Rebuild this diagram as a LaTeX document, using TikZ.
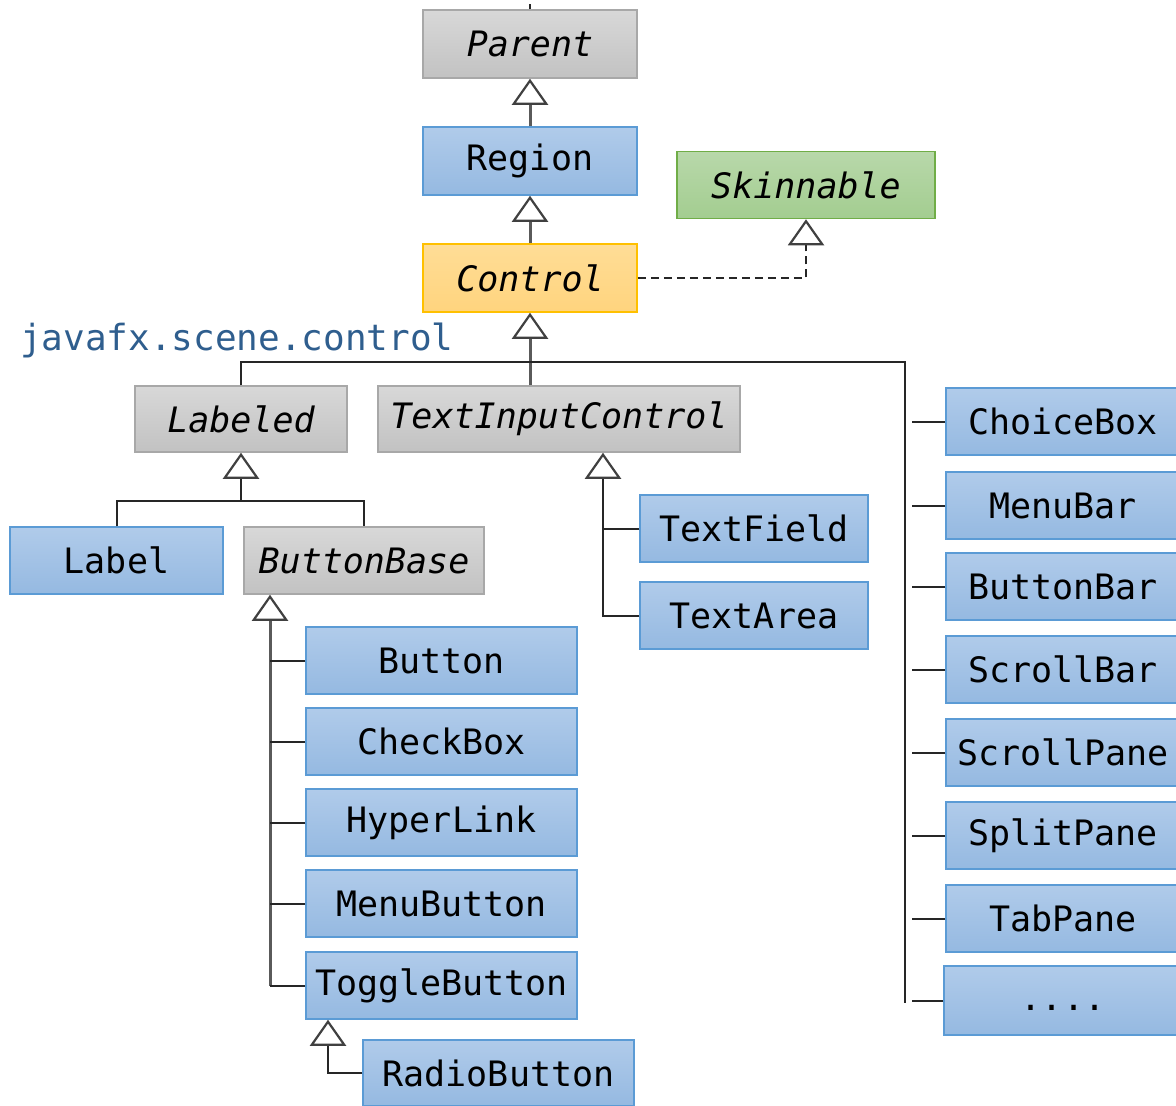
\documentclass[tikz,border=0pt]{standalone}
\usepackage{fontspec}
\newfontfamily\dmono{DejaVu Sans Mono}
\usetikzlibrary{arrows.meta}
\definecolor{blueT}{HTML}{B0CBEA}
\definecolor{blueD}{HTML}{95B9E1}
\definecolor{blueB}{HTML}{5B9BD5}
\definecolor{grayT}{HTML}{D8D8D8}
\definecolor{grayD}{HTML}{C2C2C2}
\definecolor{grayB}{HTML}{A8A8A8}
\definecolor{orT}{HTML}{FFDD96}
\definecolor{orD}{HTML}{FFD47E}
\definecolor{orB}{HTML}{FFC000}
\definecolor{grT}{HTML}{B8D8AA}
\definecolor{grD}{HTML}{A3CD90}
\definecolor{grB}{HTML}{70AD47}
\definecolor{pkg}{HTML}{2F5E8E}
\definecolor{lineG}{HTML}{5A5A5A}
\tikzset{
  box/.style={draw, line width=1.5pt, minimum height=67pt, inner sep=0pt,
    font=\dmono\fontsize{35}{42}\selectfont, text=black},
  bluebox/.style={box, draw=blueB, top color=blueT, bottom color=blueD},
  graybox/.style={box, draw=grayB, top color=grayT, bottom color=grayD, font=\dmono\itshape\fontsize{35}{42}\selectfont},
  orbox/.style={box, draw=orB, top color=orT, bottom color=orD, font=\dmono\itshape\fontsize{35}{42}\selectfont},
  grbox/.style={box, draw=grB, top color=grT, bottom color=grD, font=\dmono\itshape\fontsize{35}{42}\selectfont},
  opentip/.style={-{Triangle[open, width=36pt, length=26pt, line width=2.2pt, color=black!75, fill=white]}},
  gen/.style={draw=lineG, line width=3pt, opentip},
  genthin/.style={draw=black!85, line width=2pt, opentip},
  branch/.style={draw=black!85, line width=2pt},
  realize/.style={draw=black!85, line width=2pt, dash pattern=on 8pt off 5pt, opentip},
}
\begin{document}
\begin{tikzpicture}[x=1pt, y=-1pt]
\useasboundingbox (0,0) rectangle (1176,1106);
% top chain
\node[graybox, minimum width=214pt, minimum height=68pt] (parent) at (530,44) {Parent};
\node[bluebox, minimum width=214pt, minimum height=68pt] (region) at (530,161) {Region};
\node[orbox, minimum width=214pt, minimum height=68pt] (control) at (530,278) {Control};
\node[grbox, minimum width=258pt] (skin) at (806,185) {Skinnable};
\node[anchor=base west, font=\dmono\fontsize{36}{42}\selectfont, text=pkg, inner sep=0pt] (pkgname) at (20,350) {javafx.scene.control};
% second level
\node[graybox, minimum width=212pt, minimum height=66pt] (labeled) at (241,419) {Labeled};
\node[graybox, minimum width=362pt, minimum height=66pt] (tic) at (559,419) {TextInputControl};
% labeled children
\node[bluebox, minimum width=213pt] (label) at (116.5,560.5) {Label};
\node[graybox, minimum width=240pt] (bbase) at (364,560.5) {ButtonBase};
% buttonbase children
\node[bluebox, minimum width=271pt] (button) at (441.5,660.5) {Button};
\node[bluebox, minimum width=271pt] (checkbox) at (441.5,741.5) {CheckBox};
\node[bluebox, minimum width=271pt] (hyperlink) at (441.5,822.5) {HyperLink};
\node[bluebox, minimum width=271pt] (menubutton) at (441.5,903.5) {MenuButton};
\node[bluebox, minimum width=271pt] (toggle) at (441.5,985.5) {ToggleButton};
\node[bluebox, minimum width=271pt, minimum height=66pt] (radio) at (498.5,1073) {RadioButton};
% text input children
\node[bluebox, minimum width=228pt] (textfield) at (754,528.5) {TextField};
\node[bluebox, minimum width=228pt] (textarea) at (754,615.5) {TextArea};
% right column
\node[bluebox, minimum width=234pt] (choicebox) at (1063,421.5) {ChoiceBox};
\node[bluebox, minimum width=234pt] (menubar) at (1063,505.5) {MenuBar};
\node[bluebox, minimum width=234pt] (buttonbar) at (1063,586.5) {ButtonBar};
\node[bluebox, minimum width=234pt] (scrollbar) at (1063,669.5) {ScrollBar};
\node[bluebox, minimum width=234pt] (scrollpane) at (1063,752.5) {ScrollPane};
\node[bluebox, minimum width=234pt] (splitpane) at (1063,835.5) {SplitPane};
\node[bluebox, minimum width=234pt] (tabpane) at (1063,918.5) {TabPane};
\node[bluebox, minimum width=238pt, minimum height=69pt] (more) at (1063,1000.5) {\raisebox{-10pt}[0pt][0pt]{....}};
% coordinates
\coordinate (bus) at (530,362);
\coordinate (rtop) at (905,362);
\coordinate (rbot) at (905,1003);
\coordinate (rbr) at (912,0);
\coordinate (lj) at (241,501);
\coordinate (bbx) at (270,0);
\coordinate (rbx) at (328,0);
\coordinate (tx) at (603,0);
% connectors
\draw[branch] (parent.north) -- ++(0,-5);
\draw[gen] (region.north) -- (parent.south);
\draw[gen] (control.north) -- (region.south);
\draw[realize] (control.east) -| (skin.south);
\draw[gen] (tic.north -| control.south) -- (control.south);
\draw[branch] (labeled.north) |- (bus) -- (rtop) -- (rbot);
\foreach \n in {choicebox,menubar,buttonbar,scrollbar,scrollpane,splitpane,tabpane,more}
  \draw[branch] (\n.west) -- (\n.west -| rbr);
\draw[genthin] (lj) -- (labeled.south);
\draw[branch] (label.north) |- (lj) -| (bbase.north);
\draw[gen] (toggle.west -| bbx) -- (bbase.south -| bbx);
\foreach \n in {button,checkbox,hyperlink,menubutton,toggle}
  \draw[branch] (\n.west) -- (\n.west -| bbx);
\draw[genthin] (radio.west) -| (toggle.south -| rbx);
\draw[genthin] (textarea.west) -| (tic.south -| tx);
\draw[branch] (textfield.west) -- (textfield.west -| tx);
\end{tikzpicture}
\end{document}
